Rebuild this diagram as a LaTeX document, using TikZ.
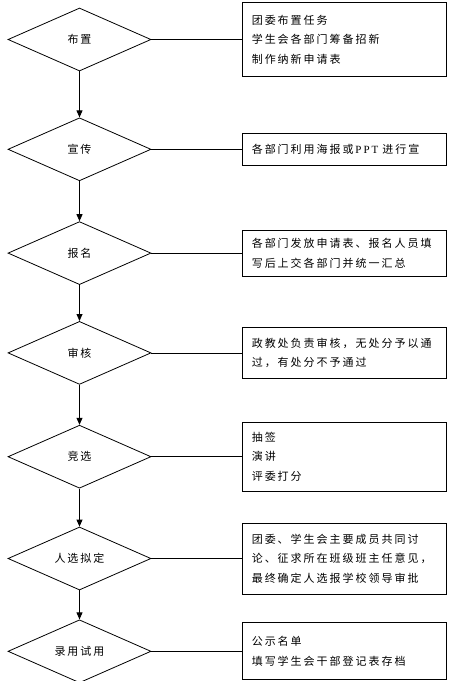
\documentclass[tikz,border=0pt]{standalone}
\usepackage{fontspec}
\setmainfont{Liberation Serif}
\newfontfamily\cjk[LetterSpace=18]{Noto Sans CJK SC}
\newfontfamily\latin[LetterSpace=18]{Liberation Serif}
\usetikzlibrary{shapes.geometric, arrows.meta, positioning}

\begin{document}
\begin{tikzpicture}[
  x=1pt, y=1pt,
  node distance=40pt and 91pt,
  decision/.style={
    diamond, draw, line width=0.8pt,
    minimum width=143pt, minimum height=63pt,
    inner sep=0pt, font=\cjk\fontsize{11}{13}\selectfont
  },
  box/.style={
    rectangle, draw, line width=0.8pt,
    text width=186pt, inner xsep=9pt, inner ysep=0pt,
    align=left, font=\cjk\fontsize{11}{19.5}\selectfont
  },
  arrow/.style={-{Triangle[length=7pt, width=6pt]}, line width=0.8pt},
  link/.style={line width=0.8pt}
]
  \useasboundingbox (0,0) rectangle (457,-681);

  % Steps
  \node[decision] (bz) at (79.5,-39.5) {布置};
  \node[decision, below=46pt of bz] (xc) {宣传};
  \node[decision, below=40pt of xc] (bm) {报名};
  \node[decision, below=36pt of bm] (sh) {审核};
  \node[decision, below=40pt of sh] (jx) {竞选};
  \node[decision, below=38pt of jx] (rx) {人选拟定};
  \node[decision, below=29pt of rx] (ly) {录用试用};

  % Notes
  \node[box, minimum height=74pt, right=of bz] (bzbox) {团委布置任务\\学生会各部门筹备招新\\制作纳新申请表};
  \node[box, minimum height=32pt, right=of xc] (xcbox) {各部门利用海报或\,{\latin PPT}\hspace{4pt}进行宣};
  \node[box, minimum height=46pt, right=of bm] (bmbox) {各部门发放申请表、报名人员填\\写后上交各部门并统一汇总};
  \node[box, minimum height=51pt, right=of sh] (shbox) {政教处负责审核，无处分予以通\\过，有处分不予通过};
  \node[box, minimum height=69pt, right=of jx] (jxbox) {抽签\\演讲\\评委打分};
  \node[box, minimum height=71pt, right=of rx] (rxbox) {团委、学生会主要成员共同讨\\论、征求所在班级班主任意见，\\最终确定人选报学校领导审批};
  \node[box, minimum height=57pt, right=of ly] (lybox) {公示名单\\填写学生会干部登记表存档};

  % Arrows
  \draw[arrow] (bz)--(xc);
  \draw[arrow] (xc)--(bm);
  \draw[arrow] (bm)--(sh);
  \draw[arrow] (sh)--(jx);
  \draw[arrow] (jx)--(rx);
  \draw[arrow] (rx)--(ly);

  % Links
  \draw[link] (bz)--(bzbox);
  \draw[link] (xc)--(xcbox);
  \draw[link] (bm)--(bmbox);
  \draw[link] (sh)--(shbox);
  \draw[link] (jx)--(jxbox);
  \draw[link] (rx)--(rxbox);
  \draw[link] (ly)--(lybox);
\end{tikzpicture}
\end{document}
